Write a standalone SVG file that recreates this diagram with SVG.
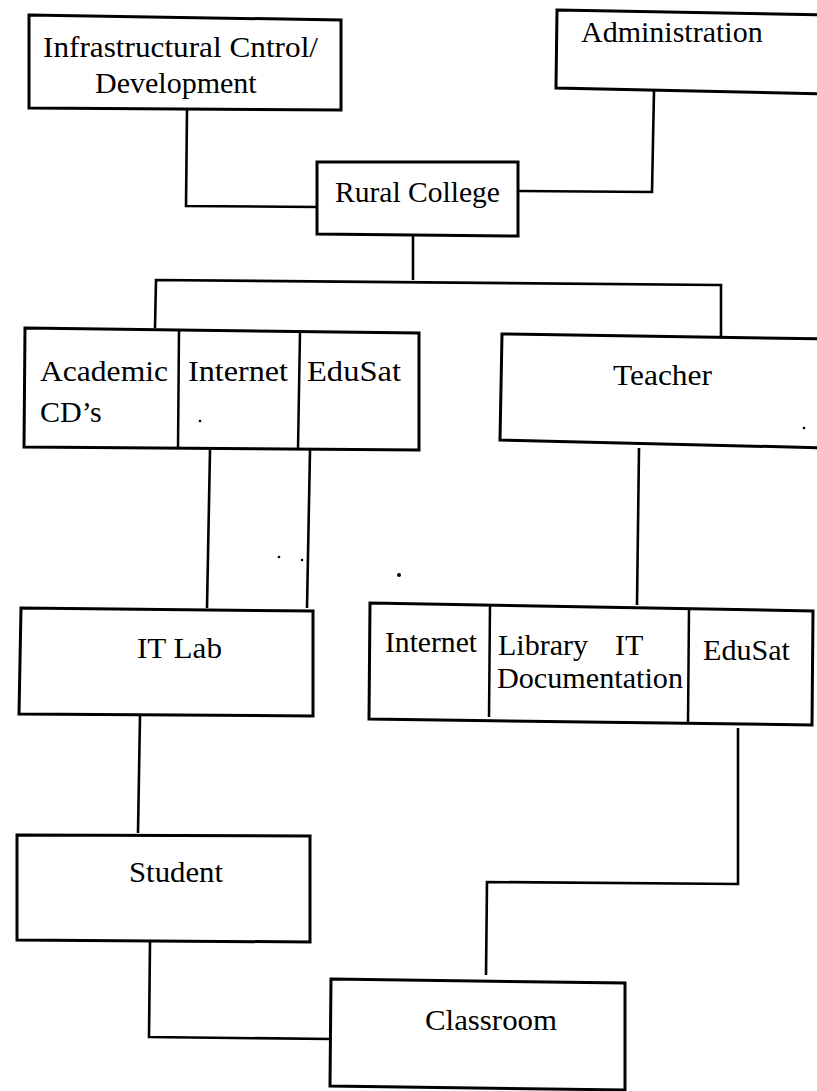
<svg xmlns="http://www.w3.org/2000/svg" width="817" height="1091" viewBox="0 0 817 1091">
<style>
.box{fill:#fff;stroke:#000;stroke-width:3;stroke-linejoin:miter}
.div{fill:none;stroke:#000;stroke-width:2.5}
.con{fill:none;stroke:#000;stroke-width:2.6;stroke-linejoin:miter}
.t{font-family:"Liberation Serif","Times New Roman",serif;font-size:30px;fill:#000}
.dot{fill:#000}
</style>
<rect width="817" height="1091" fill="#fff"/>
<g id="connectors">
<polyline class="con" points="187,110 186,206 317,207"/>
<polyline class="con" points="654,91 652,192 518,191"/>
<polyline class="con" points="413,236 413,280"/>
<polyline class="con" points="155,328 156,280 718,285 721,285 721,337"/>
<polyline class="con" points="210,450 207,608"/>
<polyline class="con" points="310,450 307,608"/>
<polyline class="con" points="639,448 637,605"/>
<polyline class="con" points="738,728 738,884 487,882 486,975"/>
<polyline class="con" points="140,716 138,833"/>
<polyline class="con" points="150,942 149,1037 331,1039"/>
</g>
<g id="infrastructural">
<polygon class="box" points="29,15 341,20 341,110 29,108"/>
<text class="t" x="43" y="57" textLength="275" lengthAdjust="spacingAndGlyphs">Infrastructural Cntrol/</text>
<text class="t" x="95" y="93">Development</text>
</g>
<g id="administration">
<polygon class="box" points="557,10 830,15 830,94 556,88"/>
<text class="t" x="581" y="42">Administration</text>
</g>
<g id="rural-college">
<polygon class="box" points="317,162 518,162 518,236 317,234"/>
<text class="t" x="335" y="202" textLength="165" lengthAdjust="spacingAndGlyphs">Rural College</text>
</g>
<g id="resources-left">
<polygon class="box" points="25,328 419,333 419,450 24,447"/>
<line class="div" x1="179" y1="330" x2="178" y2="448"/>
<line class="div" x1="300" y1="332" x2="298" y2="449"/>
<text class="t" x="40" y="381" textLength="128" lengthAdjust="spacingAndGlyphs">Academic</text>
<text class="t" x="40" y="422">CD’s</text>
<text class="t" x="188" y="381" textLength="100" lengthAdjust="spacingAndGlyphs">Internet</text>
<text class="t" x="307" y="381" textLength="94" lengthAdjust="spacingAndGlyphs">EduSat</text>
<circle class="dot" cx="200" cy="421" r="1.3"/>
</g>
<g id="teacher">
<polygon class="box" points="502,334 830,339 830,448 500,440"/>
<text class="t" x="613" y="385" textLength="99" lengthAdjust="spacingAndGlyphs">Teacher</text>
<circle class="dot" cx="804" cy="428" r="1.3"/>
</g>
<g id="it-lab">
<polygon class="box" points="21,608 313,611 313,716 19,714"/>
<text class="t" x="137" y="658" textLength="85" lengthAdjust="spacingAndGlyphs">IT Lab</text>
</g>
<g id="resources-right">
<polygon class="box" points="370,603 813,611 812,725 369,719"/>
<line class="div" x1="490" y1="605" x2="489" y2="717"/>
<line class="div" x1="689" y1="609" x2="688" y2="722"/>
<text class="t" x="385" y="652" textLength="92" lengthAdjust="spacingAndGlyphs">Internet</text>
<text class="t" x="498" y="655">Library</text>
<text class="t" x="615" y="655">IT</text>
<text class="t" x="497" y="688" textLength="186" lengthAdjust="spacingAndGlyphs">Documentation</text>
<text class="t" x="703" y="660" textLength="87" lengthAdjust="spacingAndGlyphs">EduSat</text>
</g>
<g id="student">
<polygon class="box" points="17,835 310,836 310,942 17,940"/>
<text class="t" x="129" y="882" textLength="94" lengthAdjust="spacingAndGlyphs">Student</text>
</g>
<g id="classroom">
<polygon class="box" points="331,979 625,983 625,1090 330,1086"/>
<text class="t" x="425" y="1030" textLength="132" lengthAdjust="spacingAndGlyphs">Classroom</text>
</g>
<g id="specks">
<circle class="dot" cx="279" cy="557" r="1.3"/>
<circle class="dot" cx="302" cy="560" r="1.3"/>
<circle class="dot" cx="399" cy="575" r="2"/>
</g>
</svg>
